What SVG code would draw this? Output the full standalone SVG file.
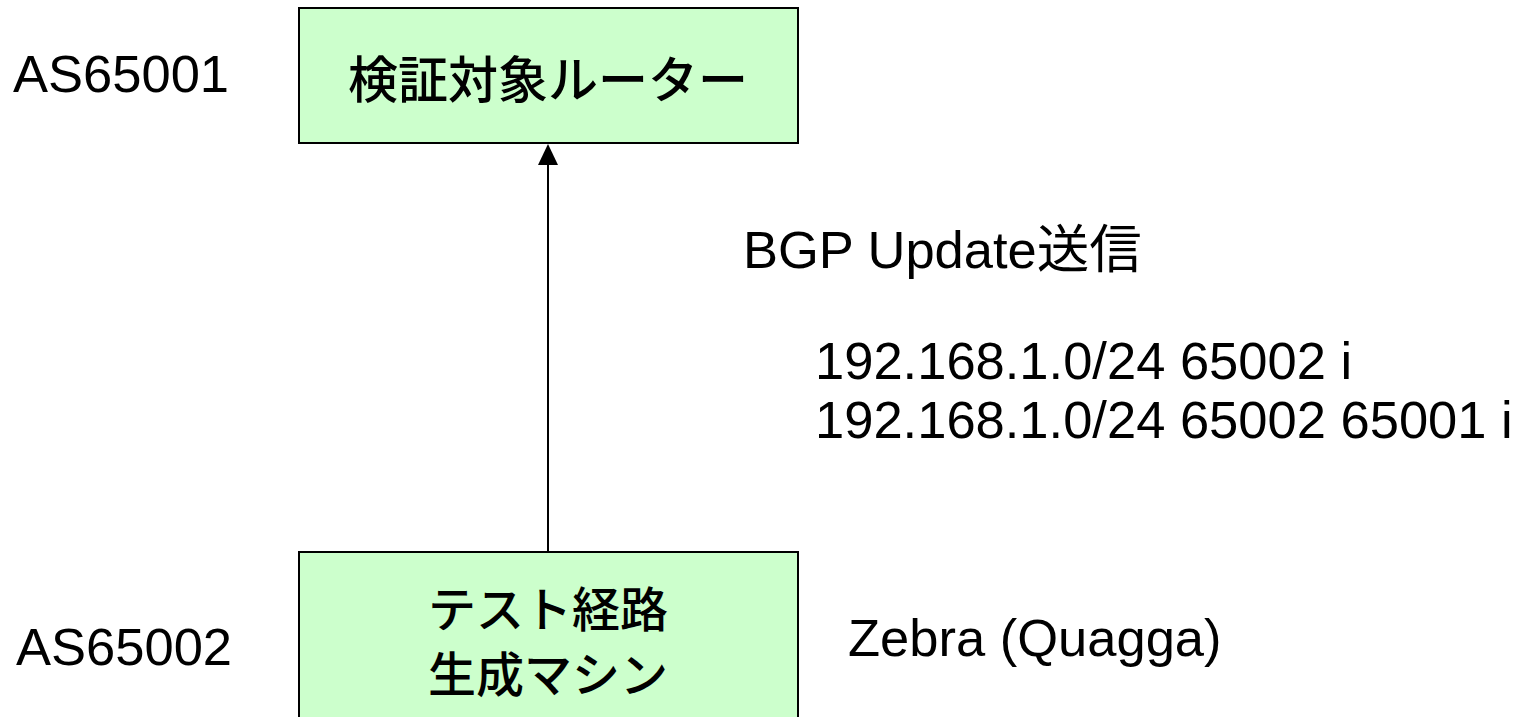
<svg xmlns="http://www.w3.org/2000/svg" width="1526" height="717" viewBox="0 0 1526 717">
<style>
.box{fill:#CCFFCC;stroke:#000;stroke-width:2}
.t{font-family:"Liberation Sans","Noto Sans CJK JP",sans-serif;font-size:52.5px;fill:#000}
.j{font-family:"Noto Sans CJK JP","Liberation Sans",sans-serif;font-size:50px;font-weight:500;fill:#000;text-anchor:middle}
</style>
<rect width="1526" height="717" fill="#fff"/>
<g id="connectors">
<line x1="548" y1="552" x2="548" y2="164" stroke="#000" stroke-width="2"/>
<path d="M548,144 L538,165 L558,165 z" fill="#000"/>
</g>
<g id="router">
<rect class="box" x="299" y="8" width="499" height="135"/>
<text class="j" x="548" y="98">検証対象ルーター</text>
</g>
<g id="testmachine">
<rect class="box" x="299" y="552" width="499" height="180"/>
<text class="j" style="font-size:48px"><tspan x="548" y="627">テスト経路</tspan><tspan x="548" y="692">生成マシン</tspan></text>
</g>
<g id="labels">
<text class="t" x="13" y="92">AS65001</text>
<text class="t" x="16" y="665">AS65002</text>
<text class="t" x="743" y="268">BGP Update送信</text>
<text class="t" x="815" y="379">192.168.1.0/24 65002 i</text>
<text class="t" x="815" y="438">192.168.1.0/24 65002 65001 i</text>
<text class="t" x="848" y="656">Zebra (Quagga)</text>
</g>
</svg>
